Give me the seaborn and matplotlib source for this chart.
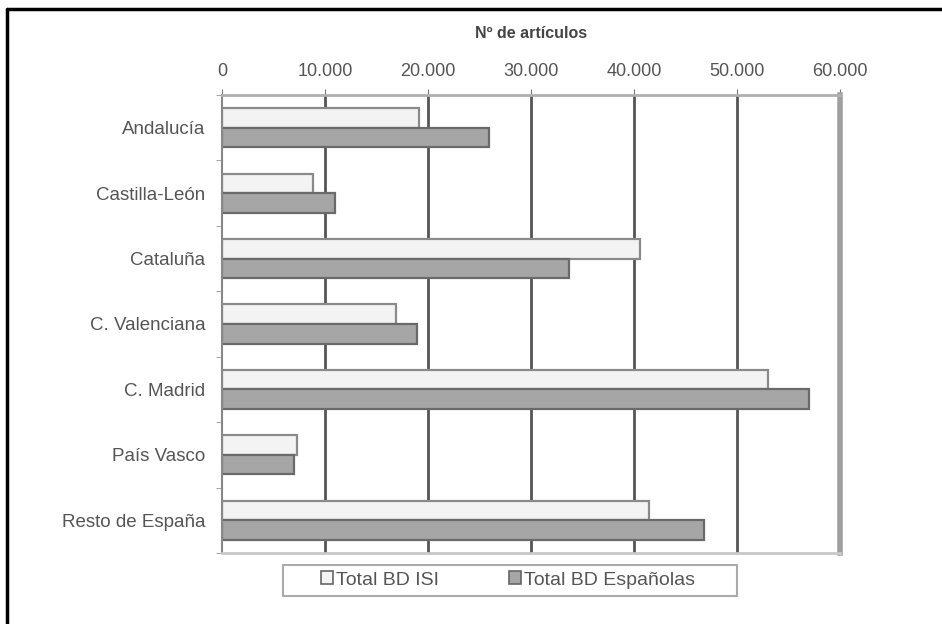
import numpy as np
import pandas as pd
import matplotlib
matplotlib.use("Agg")
import matplotlib.pyplot as plt
import seaborn as sns
from matplotlib.ticker import FuncFormatter
from matplotlib.lines import Line2D
from matplotlib.patches import Patch, Rectangle

# Data
regiones = ["Andalucía", "Castilla-León", "Cataluña", "C. Valenciana",
            "C. Madrid", "País Vasco", "Resto de España"]
total_isi = [19100, 8850, 40600, 16900, 53000, 7300, 41500]
total_espanolas = [25900, 11000, 33700, 18900, 57000, 7000, 46800]
series = ["Total BD ISI", "Total BD Españolas"]
xticks = [0, 10000, 20000, 30000, 40000, 50000, 60000]

df = pd.DataFrame({
    "Region": regiones * 2,
    "Serie": [series[0]] * len(regiones) + [series[1]] * len(regiones),
    "Articulos": total_isi + total_espanolas,
})

sns.set_style("white")
plt.rcParams["font.family"] = ["Liberation Sans", "DejaVu Sans"]

fills = ["#f3f3f3", "#a6a6a6"]
edges = ["#8a8a8a", "#6a6a6a"]

fig = plt.figure(figsize=(9.42, 6.24), dpi=100)
ax = fig.add_axes([222 / 942, 1 - 553 / 624, 618 / 942, 458 / 624])

sns.barplot(data=df, y="Region", x="Articulos", hue="Serie", orient="h",
            palette=fills, width=0.6, ax=ax,
            order=regiones, hue_order=series, legend=False)

for cont, ec in zip(ax.containers, edges):
    for patch in cont:
        patch.set_edgecolor(ec)
        patch.set_linewidth(1.6)

ax.set_xlim(0, 60000)
ax.set_ylim(6.5, -0.5)
ax.xaxis.tick_top()
ax.set_xticks(xticks)
ax.xaxis.set_major_formatter(FuncFormatter(lambda v, p: f"{int(v):,}".replace(",", ".")))
ax.tick_params(axis="x", length=4, color="#777777", labelsize=13, labelcolor="#555555", pad=7)
ax.set_xlabel("")
ax.set_ylabel("")

# category ticks between groups
ax.set_yticks(np.arange(len(regiones)))
ax.set_yticks(np.arange(-0.5, len(regiones), 1.0), minor=True)
ax.tick_params(axis="y", which="major", length=0, labelsize=13.5, labelcolor="#555555", pad=12)
ax.tick_params(axis="y", which="minor", length=4, color="#999999", left=True)

for v in xticks[1:-1]:
    ax.axvline(v, color="#555555", lw=2, zorder=0.5)

ax.spines["right"].set_color("#a0a0a0")
ax.spines["right"].set_linewidth(4)
ax.spines["top"].set_color("#b0b0b0")
ax.spines["top"].set_linewidth(2)
ax.spines["left"].set_color("#888888")
ax.spines["left"].set_linewidth(1.5)
ax.spines["bottom"].set_color("#c8c8c8")
ax.spines["bottom"].set_linewidth(2)

fig.text(531 / 942, 1 - 34 / 624, "Nº de artículos", ha="center", va="center",
         fontsize=11.5, fontweight="bold", color="#444444")

# legend
handles = [Patch(facecolor=f, edgecolor="#666666", linewidth=1.2) for f in fills]
leg = fig.legend(handles, series, loc="center", ncol=2,
                 bbox_to_anchor=(508 / 942, 1 - 580 / 624), fontsize=14,
                 frameon=False, handlelength=0.6, handleheight=0.6,
                 handletextpad=0.15, columnspacing=3.6)
for t in leg.get_texts():
    t.set_color("#555555")
fig.add_artist(Rectangle((283 / 942, 1 - 596 / 624), 454 / 942, 31 / 624,
                         transform=fig.transFigure, fill=False,
                         edgecolor="#aaaaaa", linewidth=1.5))

# outer frame (only top and left are visible in the reference)
fig.add_artist(Line2D([7 / 942, 1.0], [1 - 9 / 624, 1 - 9 / 624], color="black", lw=2.5))
fig.add_artist(Line2D([7 / 942, 7 / 942], [0.0, 1 - 9 / 624], color="black", lw=2.5))

fig.savefig("out.png", dpi=100)
